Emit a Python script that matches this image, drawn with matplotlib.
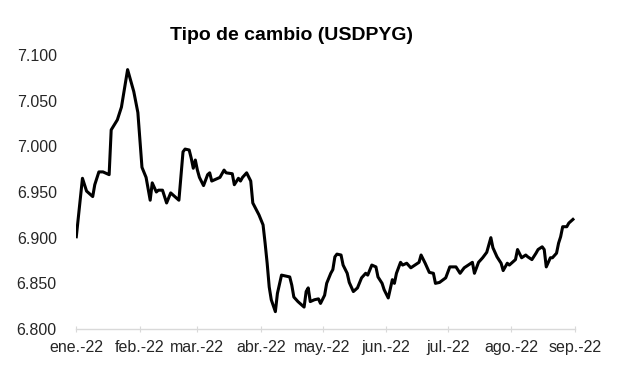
import pandas as pd
import matplotlib
matplotlib.use('Agg')
import matplotlib.pyplot as plt
from matplotlib.ticker import FuncFormatter

plt.rcParams['font.family'] = ['Liberation Sans', 'DejaVu Sans']

# USDPYG daily values (guaranies per dollar)
fechas = [
    '01-01', '01-04', '01-06', '01-09', '01-10', '01-12', '01-14', '01-17', '01-18', '01-21',
    '01-23', '01-26', '01-29', '01-31', '02-02', '02-04', '02-06', '02-07', '02-09', '02-10',
    '02-12', '02-14', '02-16', '02-17', '02-20', '02-22', '02-23', '02-25', '02-26', '02-27',
    '02-28', '03-01', '03-02', '03-04', '03-06', '03-07', '03-08', '03-10', '03-12', '03-14',
    '03-15', '03-18', '03-19', '03-21', '03-22', '03-23', '03-25', '03-27', '03-28', '03-31',
    '04-02', '04-03', '04-04', '04-05', '04-06', '04-08', '04-09', '04-11', '04-13', '04-15',
    '04-16', '04-17', '04-19', '04-22', '04-23', '04-24', '04-25', '04-27', '04-29', '04-30',
    '05-02', '05-03', '05-05', '05-06', '05-07', '05-08', '05-10', '05-11', '05-13', '05-14',
    '05-16', '05-18', '05-20', '05-22', '05-23', '05-25', '05-27', '05-28', '05-30', '05-31',
    '06-02', '06-04', '06-05', '06-06', '06-08', '06-09', '06-11', '06-13', '06-15', '06-17',
    '06-18', '06-20', '06-22', '06-24', '06-25', '06-27', '06-30', '07-02', '07-05', '07-07',
    '07-09', '07-11', '07-13', '07-14', '07-16', '07-18', '07-20', '07-22', '07-23', '07-25',
    '07-27', '07-28', '07-30', '07-31', '08-03', '08-04', '08-06', '08-08', '08-09', '08-11',
    '08-13', '08-14', '08-16', '08-17', '08-18', '08-20', '08-21', '08-23', '08-24', '08-25',
    '08-26', '08-28', '08-29', '08-31',
]
valores = [
    6901, 6965, 6951, 6945, 6958, 6972, 6972, 6969, 7018, 7029,
    7043, 7084, 7060, 7037, 6977, 6966, 6941, 6960, 6950, 6952,
    6952, 6938, 6949, 6947, 6941, 6994, 6997, 6996, 6987, 6976,
    6985, 6974, 6966, 6957, 6969, 6971, 6962, 6964, 6966, 6974,
    6971, 6970, 6958, 6965, 6962, 6966, 6971, 6962, 6938, 6925,
    6914, 6894, 6872, 6846, 6832, 6819, 6839, 6859, 6858, 6857,
    6848, 6835, 6830, 6824, 6841, 6845, 6830, 6832, 6833, 6828,
    6837, 6850, 6861, 6865, 6879, 6882, 6881, 6870, 6861, 6851,
    6841, 6845, 6856, 6861, 6859, 6870, 6868, 6857, 6850, 6843,
    6834, 6854, 6850, 6861, 6873, 6870, 6872, 6867, 6870, 6873,
    6881, 6872, 6862, 6861, 6850, 6851, 6856, 6868, 6868, 6861,
    6867, 6870, 6873, 6861, 6873, 6878, 6884, 6900, 6889, 6879,
    6872, 6864, 6872, 6870, 6876, 6887, 6878, 6881, 6879, 6876,
    6883, 6887, 6890, 6887, 6868, 6878, 6878, 6883, 6894, 6901,
    6912, 6912, 6916, 6920,
]
meses = ['ene.-22', 'feb.-22', 'mar.-22', 'abr.-22', 'may.-22',
         'jun.-22', 'jul.-22', 'ago.-22', 'sep.-22']
y_ticks = [6800, 6850, 6900, 6950, 7000, 7050, 7100]

df = pd.DataFrame({'fecha': pd.to_datetime(['2022-' + f for f in fechas]),
                   'usdpyg': valores})
ticks = pd.date_range('2022-01-01', '2022-09-01', freq='MS')

fig = plt.figure(figsize=(6.17, 3.81), dpi=100)
ax = fig.add_axes([76.3 / 617, 1 - 329 / 381, (575 - 76.3) / 617, (329 - 55) / 381])

ax.plot(df['fecha'], df['usdpyg'], color='black', linewidth=2.2, solid_joinstyle='round')

ax.set_xlim(ticks[0], ticks[-1])
ax.set_ylim(6800, 7100)
ax.set_xticks(ticks)
ax.set_xticklabels(meses)
ax.set_yticks(y_ticks)
ax.yaxis.set_major_formatter(FuncFormatter(lambda v, p: f'{v:,.0f}'.replace(',', '.')))

for s in ['top', 'right', 'left']:
    ax.spines[s].set_visible(False)
ax.spines['bottom'].set_color('#d9d9d9')
ax.spines['bottom'].set_linewidth(1.0)
ax.tick_params(axis='x', colors='#d9d9d9', length=4, direction='inout', pad=6,
               labelcolor='#262626', labelsize=11.5)
ax.tick_params(axis='y', length=0, pad=14, labelcolor='#262626', labelsize=11.5)

fig.text(292 / 617, 1 - 35 / 381, 'Tipo de cambio (USDPYG)', ha='center', va='center',
         fontsize=14, fontweight='bold', color='black')

fig.savefig('out.png', dpi=100)
